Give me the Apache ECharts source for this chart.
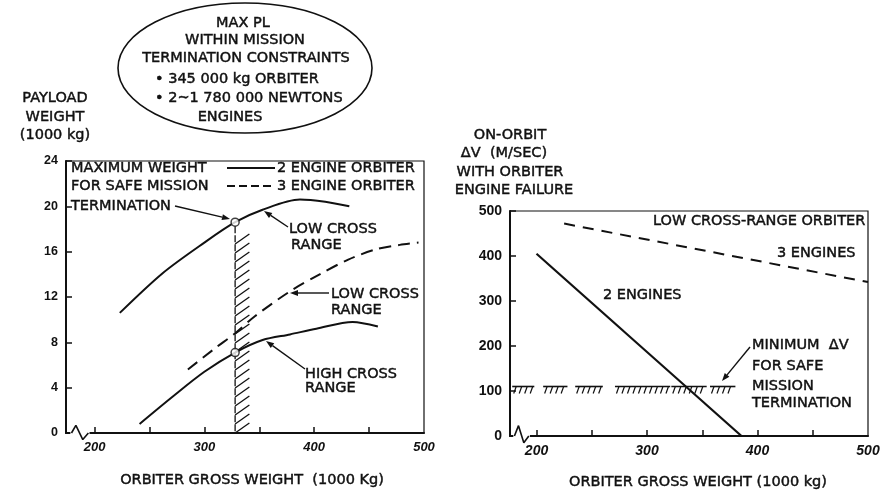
<!DOCTYPE html>
<html lang="en">
<head>
    <meta charset="UTF-8">
    <title>Orbiter payload and on-orbit delta V</title>
    <script type="text/javascript" src="https://cdn.jsdelivr.net/npm/echarts@6/dist/echarts.min.js"></script>
    <style>
        body { margin: 0; background: #fff; }
    </style>
</head>
<body>
<div id="chart" style="width: 892px;height: 493px"></div>
<script type="text/javascript">
    // left chart: payload weight (1000 kg) vs orbiter gross weight
    var lowCross2X = [223, 262, 300, 328, 353, 387, 410, 432];
    var lowCross2Y = [10.6, 14.1, 16.8, 18.6, 19.7, 20.6, 20.4, 20.0];
    var lowCross3X = [285, 310, 328, 346, 378, 405, 431, 456, 478, 495];
    var lowCross3Y = [5.6, 7.5, 8.8, 10.3, 12.5, 14.0, 15.3, 16.2, 16.6, 16.8];
    var highCross2X = [241, 271, 300, 328, 353, 378, 402, 435, 458];
    var highCross2Y = [0.8, 3.2, 5.4, 7.1, 8.2, 8.7, 9.2, 9.8, 9.4];
    var markX = [328, 328];
    var markY = [18.6, 7.1];
    var band = [[328, 341, 0, 17.9]];
    var leftXTicks = [200, 250, 300, 350, 400, 450];
    var leftXLabels = [200, 300, 400, 500];
    var leftBreakX = [179, 183, 189.3, 194.4];
    var leftBreakY = [0, 0.68, -0.58, 0];

    // right chart: on-orbit delta V (m/sec)
    var three3X = [225, 500];
    var three3Y = [472, 342];
    var two2X = [200, 385.5];
    var two2Y = [405, 0];
    var minDvLevel = 110;
    var minDvSegs = [[178, 198], [206, 228], [235, 260], [271, 321], [322, 354], [357, 380]];
    var rightXTicks = [200, 250, 300, 350, 400, 450];
    var rightXLabels = [200, 300, 400, 500];
    var rightBreakX = [180, 183.7, 188.5, 193];
    var rightBreakY = [0, 23, -15, 0];

    var INK = '#111';
    var FONT = '14.5px "DejaVu Sans"';

    function pairs(xs, ys) {
        var out = [];
        for (var i = 0; i < xs.length; i++) out.push([xs[i], ys[i]]);
        return out;
    }

    function txt(s, x, y, align) {
        return {
            type: 'text', x: x, y: y, z: 10,
            style: {
                text: s, font: FONT, fill: INK, stroke: INK, lineWidth: 0.45,
                align: align || 'left', verticalAlign: 'middle',
                textAlign: align || 'left', textVerticalAlign: 'middle'
            }
        };
    }

    function arrow(x1, y1, x2, y2) {
        var a = Math.atan2(y2 - y1, x2 - x1), L = 8, W = 3;
        var bx = x2 - L * Math.cos(a), by = y2 - L * Math.sin(a);
        return [
            {type: 'line', z: 10, shape: {x1: x1, y1: y1, x2: bx, y2: by}, style: {stroke: INK, lineWidth: 1.4}},
            {type: 'polygon', z: 10, shape: {points: [[x2, y2],
                [bx + W * Math.sin(a), by - W * Math.cos(a)],
                [bx - W * Math.sin(a), by + W * Math.cos(a)]]}, style: {fill: INK}}
        ];
    }

    var chartDom = document.getElementById('chart');
    var myChart = echarts.init(chartDom);

    var graphics = [
        {type: 'ellipse', z: 10, shape: {cx: 245, cy: 68, rx: 127, ry: 65},
            style: {fill: 'none', stroke: INK, lineWidth: 1.6}},
        txt('MAX PL', 243, 23, 'center'),
        txt('WITHIN MISSION', 245, 40, 'center'),
        txt('TERMINATION CONSTRAINTS', 246, 58, 'center'),
        txt('\u2022 345 000 kg ORBITER', 155, 79),
        txt('\u2022 2~1 780 000 NEWTONS', 155, 98),
        txt('ENGINES', 230, 117, 'center'),

        txt('PAYLOAD', 55, 98, 'center'),
        txt('WEIGHT', 55, 117, 'center'),
        txt('(1000 kg)', 55, 135, 'center'),

        txt('MAXIMUM WEIGHT', 71, 168),
        txt('FOR SAFE MISSION', 71, 186),
        txt('TERMINATION', 71, 206),
        {type: 'line', z: 10, shape: {x1: 227, y1: 168, x2: 275, y2: 168}, style: {stroke: INK, lineWidth: 2}},
        {type: 'line', z: 10, shape: {x1: 227, y1: 186, x2: 275, y2: 186}, style: {stroke: INK, lineWidth: 2, lineDash: [8, 4]}},
        txt('2 ENGINE ORBITER', 277, 168),
        txt('3 ENGINE ORBITER', 277, 186),

        txt('LOW CROSS', 289, 229),
        txt('RANGE', 291, 245),
        txt('LOW CROSS', 331, 294),
        txt('RANGE', 331, 310),
        txt('HIGH CROSS', 305, 374),
        txt('RANGE', 305, 388),

        txt('ORBITER GROSS WEIGHT  (1000 Kg)', 252, 480, 'center'),

        txt('ON-ORBIT', 510, 135, 'center'),
        txt('\u0394V  (M/SEC)', 504, 153, 'center'),
        txt('WITH ORBITER', 510, 172, 'center'),
        txt('ENGINE FAILURE', 514, 190, 'center'),

        txt('LOW CROSS-RANGE ORBITER', 653, 221),
        txt('3 ENGINES', 777, 253),
        txt('2 ENGINES', 603, 295),
        txt('MINIMUM  \u0394V', 752, 345),
        txt('FOR SAFE', 752, 366),
        txt('MISSION', 752, 386),
        txt('TERMINATION', 752, 403),

        txt('ORBITER GROSS WEIGHT (1000 kg)', 698, 482, 'center')
    ];
    graphics = graphics
        .concat(arrow(175, 206, 230, 219))
        .concat(arrow(288, 227, 264, 211))
        .concat(arrow(329, 293, 290, 293))
        .concat(arrow(305, 369, 266, 341))
        .concat(arrow(750, 347, 722, 381));

    function xAxisFor(grid, min, ticks, labels, size) {
        return {
            gridIndex: grid, type: 'value', min: min, max: 500,
            axisLine: {lineStyle: {color: INK, width: 2}},
            axisTick: {inside: true, length: 6, customValues: ticks, lineStyle: {color: INK, width: 1.5}},
            axisLabel: {customValues: labels, color: INK, fontStyle: 'italic', fontWeight: 'bold', fontSize: size,
                fontFamily: 'Liberation Sans', margin: 8},
            splitLine: {show: false}
        };
    }

    function yAxisFor(grid, max, interval, size) {
        return {
            gridIndex: grid, type: 'value', min: 0, max: max, interval: interval,
            axisLine: {show: true, lineStyle: {color: INK, width: 2}},
            axisTick: {inside: true, length: 6, lineStyle: {color: INK, width: 1.5}},
            axisLabel: {color: INK, fontSize: size, fontWeight: 'bold', fontFamily: 'Liberation Sans', margin: 8},
            splitLine: {show: false}
        };
    }

    function breakSeries(ax, xs, ys) {
        return [
            {type: 'line', xAxisIndex: ax, yAxisIndex: ax, data: pairs([xs[0] - 1, xs[xs.length - 1] + 1], [0, 0]),
                showSymbol: false, clip: false, lineStyle: {color: '#fff', width: 5}, z: 3},
            {type: 'line', xAxisIndex: ax, yAxisIndex: ax, data: pairs(xs, ys),
                showSymbol: false, clip: false, lineStyle: {color: INK, width: 1.6}, z: 4}
        ];
    }

    var option = {
        animation: false,
        backgroundColor: '#fff',
        grid: [
            {left: 66, right: 468, top: 161, bottom: 60, show: true, borderColor: INK, borderWidth: 1.2},
            {left: 510, right: 24, top: 211, bottom: 57, show: true, borderColor: INK, borderWidth: 1.2}
        ],
        xAxis: [
            xAxisFor(0, 174, leftXTicks, leftXLabels, 13),
            xAxisFor(1, 176, rightXTicks, rightXLabels, 14)
        ],
        yAxis: [
            yAxisFor(0, 24, 4, 12.5),
            yAxisFor(1, 500, 100, 14)
        ],
        graphic: graphics,
        series: [
            {type: 'line', xAxisIndex: 0, yAxisIndex: 0, data: pairs(lowCross2X, lowCross2Y),
                smooth: 0.3, showSymbol: false, lineStyle: {color: INK, width: 2}},
            {type: 'line', xAxisIndex: 0, yAxisIndex: 0, data: pairs(lowCross3X, lowCross3Y),
                smooth: 0.3, showSymbol: false, lineStyle: {color: INK, width: 2, type: [12, 7]}},
            {type: 'line', xAxisIndex: 0, yAxisIndex: 0, data: pairs(highCross2X, highCross2Y),
                smooth: 0.3, showSymbol: false, lineStyle: {color: INK, width: 2}},
            {
                type: 'custom', xAxisIndex: 0, yAxisIndex: 0, data: band, z: 3,
                renderItem: function (params, api) {
                    var p0 = api.coord([api.value(0), api.value(3)]);
                    var p1 = api.coord([api.value(1), api.value(2)]);
                    var x0 = p0[0], x1 = p1[0], yTop = p0[1], yBot = p1[1];
                    var w = x1 - x0, rise = w * 0.7;
                    var kids = [{type: 'line', shape: {x1: x0, y1: yTop - 4, x2: x0, y2: yBot},
                        style: {stroke: INK, lineWidth: 1.3, lineDash: [7, 2]}}];
                    for (var y = yBot; y - rise >= yTop - 0.5; y -= 9) {
                        kids.push({type: 'line', shape: {x1: x0, y1: y, x2: x1, y2: y - rise},
                            style: {stroke: INK, lineWidth: 1.3}});
                    }
                    return {type: 'group', children: kids};
                }
            },
            {type: 'scatter', xAxisIndex: 0, yAxisIndex: 0, data: pairs(markX, markY), z: 6,
                symbol: 'circle', symbolSize: 8,
                itemStyle: {color: '#fff', borderColor: INK, borderWidth: 1.5}},

            {type: 'line', xAxisIndex: 1, yAxisIndex: 1, data: pairs(three3X, three3Y),
                showSymbol: false, lineStyle: {color: INK, width: 2, type: [11, 8]}},
            {type: 'line', xAxisIndex: 1, yAxisIndex: 1, data: pairs(two2X, two2Y),
                showSymbol: false, lineStyle: {color: INK, width: 2.2}},
            {
                type: 'custom', xAxisIndex: 1, yAxisIndex: 1, data: minDvSegs, z: 3,
                renderItem: function (params, api) {
                    var a = api.coord([api.value(0), minDvLevel]);
                    var b = api.coord([api.value(1), minDvLevel]);
                    var kids = [{type: 'line', shape: {x1: a[0], y1: a[1], x2: b[0], y2: b[1]},
                        style: {stroke: INK, lineWidth: 1.6}}];
                    for (var x = a[0] + 4; x <= b[0]; x += 5.5) {
                        kids.push({type: 'line', shape: {x1: x, y1: a[1], x2: x - 2.5, y2: a[1] + 7},
                            style: {stroke: INK, lineWidth: 1.2}});
                    }
                    return {type: 'group', children: kids};
                }
            }
        ].concat(breakSeries(0, leftBreakX, leftBreakY))
         .concat(breakSeries(1, rightBreakX, rightBreakY))
    };

    option && myChart.setOption(option);
</script>
</body>
</html>
